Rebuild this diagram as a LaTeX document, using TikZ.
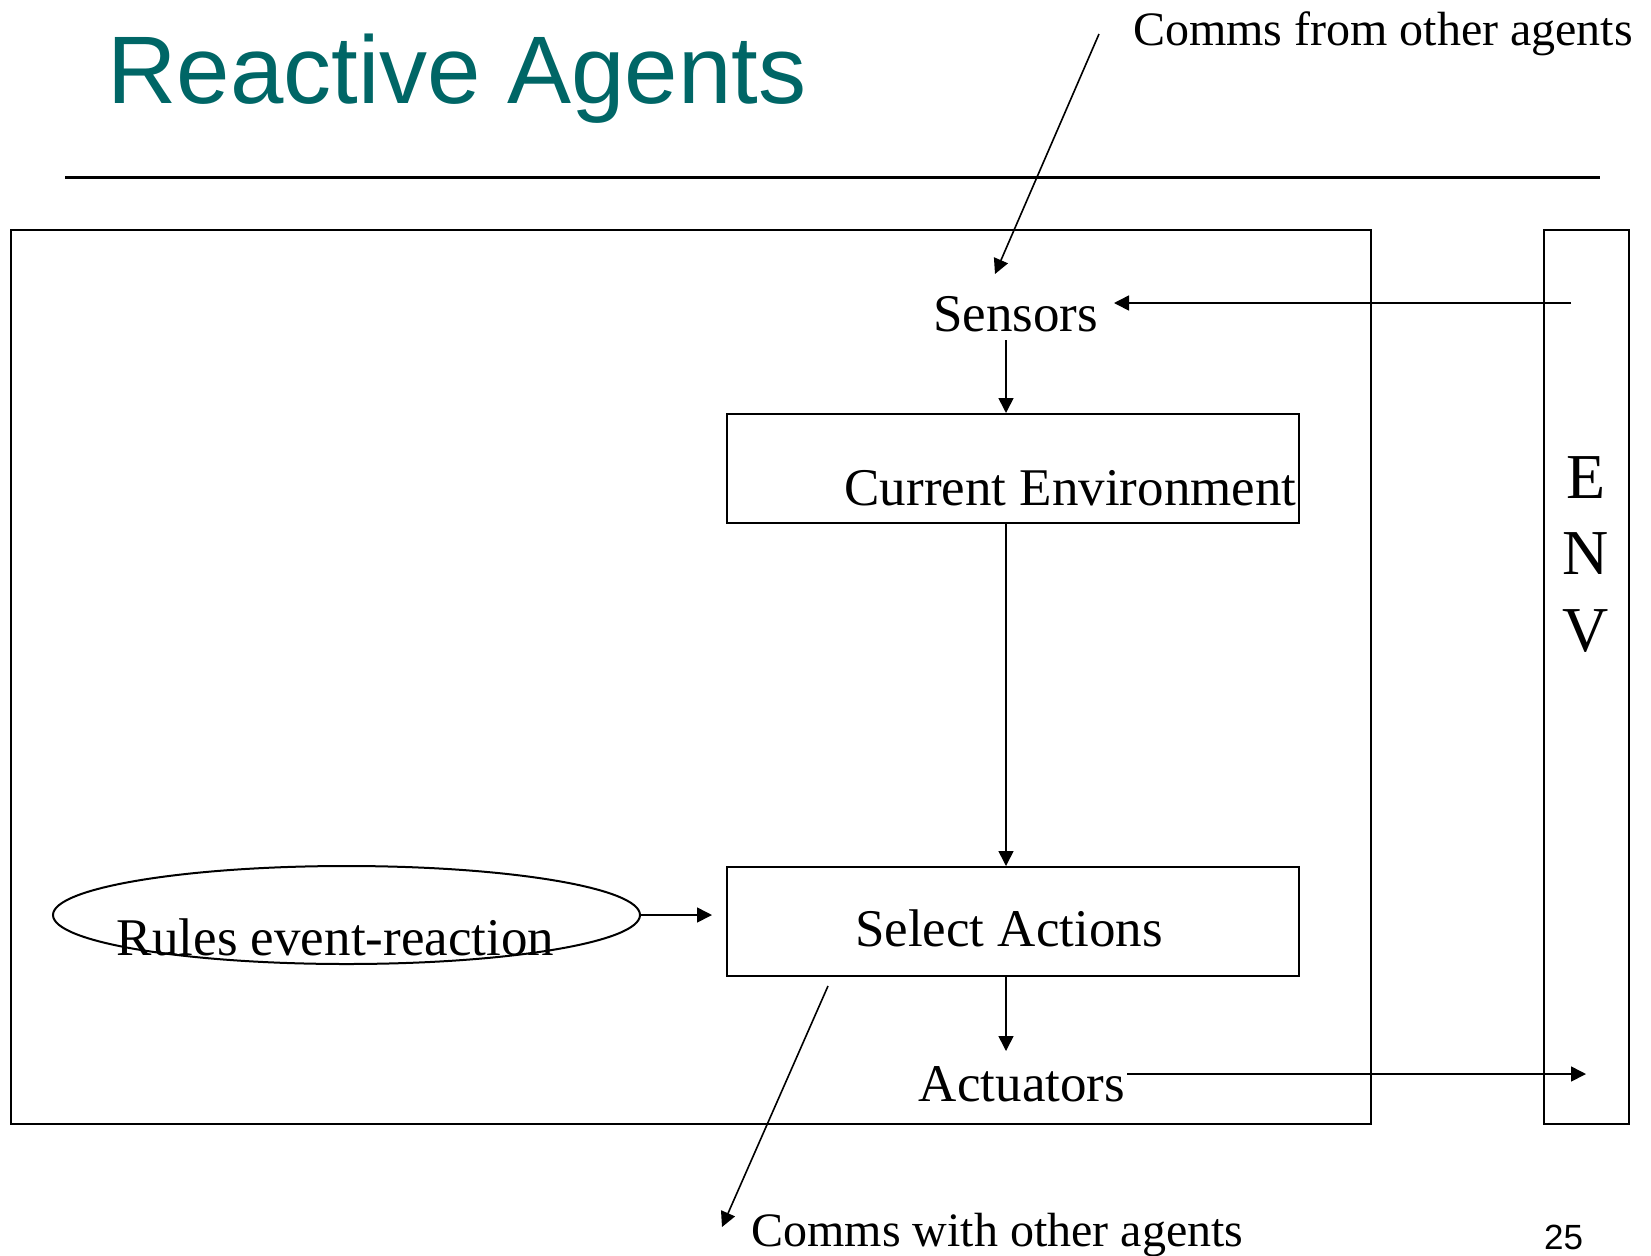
\documentclass[tikz,border=0pt]{standalone}
\usepackage{fontspec}
\setmainfont{Liberation Serif}
\newfontfamily\titlefont{Liberation Sans}
\usetikzlibrary{arrows.meta,shapes.geometric}
\definecolor{titleteal}{RGB}{0,102,102}
\begin{document}
\begin{tikzpicture}[x=0.5pt,y=-0.5pt,
  box/.style={draw,line width=1pt,rectangle,inner sep=0pt},
  lbl/.style={inner sep=0pt,anchor=base,font=\fontsize{26.5}{30}\selectfont},
  comm/.style={inner sep=0pt,anchor=base,font=\fontsize{24}{28}\selectfont},
  envletter/.style={inner sep=0pt,anchor=base,font=\fontsize{32}{36}\selectfont},
  arr/.style={line width=0.8pt,-{Triangle[length=7.5pt,width=7.5pt]}}]
\useasboundingbox (0,0) rectangle (1651,1255);

% title and rule
\node[inner sep=0pt,anchor=base west,text=titleteal,
      font=\titlefont\fontsize{48}{54}\selectfont] (title) at (107,103) {Reactive Agents};
\draw[line width=1.5pt] (65,177) coordinate (ruleL) -- (1600,177) coordinate (ruleR);

% agent frame and environment strip
\node[box,minimum width=680.25pt,minimum height=447pt] (agent) at (690.75,676.5) {};
\node[box,minimum width=42.5pt,minimum height=447pt] (env) at (1586.5,676.5) {};
\node[envletter] (envE) at (1586,498) {E};
\node[envletter] (envN) at (1586,574) {N};
\node[envletter] (envV) at (1586,651) {V};

% inner blocks
\node[box,minimum width=286pt,minimum height=54.5pt] (ce) at (1013,468.5) {};
\node[box,minimum width=286pt,minimum height=54.5pt] (sa) at (1013,921.5) {};
\node[draw,line width=1pt,ellipse,inner sep=0pt,minimum width=293.5pt,minimum height=49pt] (rules) at (346.5,915) {};

% labels
\node[lbl] (sens) at (1015.5,331) {Sensors};
\node[lbl] (cetxt) at (1070.5,505) {Current Environment};
\node[lbl] (satxt) at (1009,946) {Select Actions};
\node[lbl] (act) at (1022,1101) {Actuators};
\node[lbl] (rulestxt) at (335.5,955) {Rules event-reaction};
\node[comm] (cfrom) at (1383,45) {Comms from other agents};
\node[comm] (cwith) at (997.5,1246) {Comms with other agents};
\node[inner sep=0pt,anchor=base,font=\titlefont\fontsize{17.5}{20}\selectfont] (pnum) at (1563.5,1249) {25};

% connector end points
\coordinate (cfA) at (1099,34);
\coordinate (cfB) at (995,274);
\coordinate (envIn) at (1571,303);
\coordinate (sensIn) at (1114,303);
\coordinate (sensOut) at (1006,340);
\coordinate (col) at (1006,0);
\coordinate (actOut) at (1127,1074);
\coordinate (envOut) at (1586,1074);
\coordinate (rulesTip) at (712,915);
\coordinate (cwA) at (828,986);
\coordinate (cwB) at (722,1227);

% connectors
\draw[arr] (cfA) -- (cfB);
\draw[arr] (envIn) -- (sensIn);
\draw[arr] (sensOut) -- (ce.north -| col);
\draw[arr] (ce.south -| col) -- (sa.north -| col);
\draw[arr] (sa.south -| col) -- ++(0,74);
\draw[arr] (actOut) -- (envOut);
\draw[arr] (rules.east) -- (rules.east -| rulesTip);
\draw[arr] (cwA) -- (cwB);
\end{tikzpicture}
\end{document}
